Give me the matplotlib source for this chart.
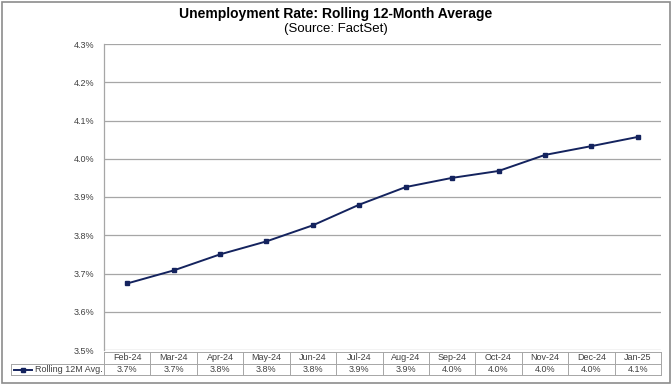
import matplotlib
matplotlib.use("Agg")
import matplotlib.pyplot as plt
from matplotlib.patches import Rectangle
import matplotlib.transforms as mtransforms

plt.rcParams['font.family'] = ['Liberation Sans', 'DejaVu Sans']

months = ['Feb-24', 'Mar-24', 'Apr-24', 'May-24', 'Jun-24', 'Jul-24',
          'Aug-24', 'Sep-24', 'Oct-24', 'Nov-24', 'Dec-24', 'Jan-25']
rolling_avg = [3.674, 3.708, 3.750, 3.784, 3.826, 3.880,
               3.926, 3.950, 3.968, 4.010, 4.033, 4.057]
y_ticks = [3.5, 3.6, 3.7, 3.8, 3.9, 4.0, 4.1, 4.2, 4.3]
series_name = 'Rolling 12M Avg.'

line_color = '#14235E'
grid_color = '#A6A6A6'
text_color = '#404040'

W, H = 672, 384
fig = plt.figure(figsize=(W / 100, H / 100), dpi=100)

# outer frame
fig.patches.append(Rectangle((1.5 / W, 1.5 / H), 1 - 3.5 / W, 1 - 3.5 / H,
                             transform=fig.transFigure, fill=False,
                             edgecolor='#8C8C8C', linewidth=1.2))

left, right, top, bottom = 104, 661, 44, 350
ax = fig.add_axes([left / W, 1 - bottom / H, (right - left) / W, (bottom - top) / H])

x = list(range(len(months)))
ax.plot(x, rolling_avg, color=line_color, linewidth=1.4, marker='s',
        markersize=3.5, markerfacecolor=line_color, markeredgecolor=line_color, zorder=3)

ax.set_xlim(-0.5, len(months) - 0.5)
ax.set_ylim(y_ticks[0], y_ticks[-1])
ax.set_yticks(y_ticks)
ax.set_yticklabels(['%.1f%%' % v for v in y_ticks], fontsize=6.5, color=text_color)
ax.tick_params(axis='y', length=0, pad=7)
ax.set_xticks([])
ax.grid(axis='y', color=grid_color, linewidth=0.9)
for s in ['top', 'right', 'bottom']:
    ax.spines[s].set_visible(False)
ax.spines['left'].set_color(grid_color)
ax.spines['left'].set_linewidth(0.9)

# data table under the plot
trans = mtransforms.blended_transform_factory(ax.transData, fig.transFigure)
row_top = 1 - 352 / H
row_mid = 1 - 364 / H
row_bot = 1 - 375 / H
lw = 0.7
for i, m in enumerate(months):
    ax.text(i, (row_top + row_mid) / 2, m, transform=trans, ha='center', va='center',
            fontsize=6.5, color=text_color)
    ax.text(i, (row_mid + row_bot) / 2, '%.1f%%' % rolling_avg[i], transform=trans,
            ha='center', va='center', fontsize=6.5, color=text_color)
for i in range(len(months) + 1):
    ax.plot([i - 0.5, i - 0.5], [row_top, row_bot], transform=trans, color=grid_color,
            linewidth=lw, clip_on=False)
for yy in [row_top, row_mid, row_bot]:
    ax.plot([-0.5, len(months) - 0.5], [yy, yy], transform=trans, color=grid_color,
            linewidth=lw, clip_on=False)

# legend cell
lx0, lx1 = 11 / W, left / W
fig.lines.append(plt.Line2D([lx0, lx1], [row_mid, row_mid], transform=fig.transFigure,
                            color=grid_color, linewidth=lw))
fig.lines.append(plt.Line2D([lx0, lx1], [row_bot, row_bot], transform=fig.transFigure,
                            color=grid_color, linewidth=lw))
fig.lines.append(plt.Line2D([lx0, lx0], [row_mid, row_bot], transform=fig.transFigure,
                            color=grid_color, linewidth=lw))
ly = (row_mid + row_bot) / 2
fig.lines.append(plt.Line2D([14 / W, 23 / W, 32 / W], [ly, ly, ly], transform=fig.transFigure,
                            color=line_color, linewidth=1.4, marker='s', markersize=3,
                            markevery=[1], markerfacecolor=line_color))
fig.text(35 / W, ly, series_name, ha='left', va='center', fontsize=6.5, color=text_color)

fig.text(0.5, 1 - 14 / H, 'Unemployment Rate: Rolling 12-Month Average', ha='center',
         va='center', fontsize=10, fontweight='bold', color='black')
fig.text(0.5, 1 - 29 / H, '(Source: FactSet)', ha='center', va='center',
         fontsize=9.5, color='black')

fig.savefig('out.png', dpi=100)
